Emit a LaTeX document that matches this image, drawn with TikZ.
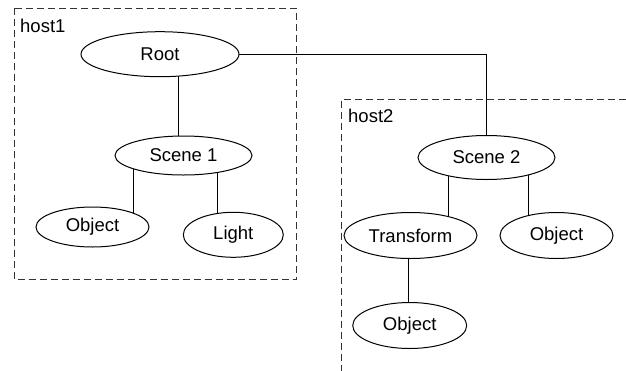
\documentclass[tikz,border=0pt]{standalone}
\usepackage{fontspec}
\setmainfont{Liberation Sans}
\usetikzlibrary{shapes.geometric,backgrounds}

\tikzset{
  obj/.style={ellipse, draw, fill=white, line width=1pt, inner sep=0pt,
              font=\fontsize{18.5}{22}\selectfont},
  link/.style={line width=1pt},
  hostbox/.style={line width=1pt, draw=black!80, dash pattern=on 7pt off 4pt},
  hostlabel/.style={anchor=base west, inner sep=0pt, font=\fontsize{18.5}{22}\selectfont}
}

\begin{document}
\begin{tikzpicture}[x=1pt, y=-1pt]
  \useasboundingbox (0,0) rectangle (626,370);

  % hosts
  \draw[hostbox] (14,8) rectangle (296.5,279.5);
  \node[hostlabel] (h1) at (20,32) {host1};
  \draw[hostbox] (626,99) -- (341.7,99) -- (341.7,372);
  \node[hostlabel] (h2) at (348,122.7) {host2};

  % scene graph on host1
  \node[obj, minimum width=158pt, minimum height=45pt] (root)   at (160,54.2)  {Root};
  \node[obj, minimum width=137pt, minimum height=39pt] (scene1) at (183.5,155.5) {Scene 1};
  \node[obj, minimum width=113pt, minimum height=40pt] (obj1)   at (92.5,227)  {Object};
  \node[obj, minimum width=100pt, minimum height=45pt] (light)  at (233.3,234.8) {Light};

  % scene graph on host2
  \node[obj, minimum width=137pt, minimum height=44pt] (scene2) at (486.5,157.5) {Scene 2};
  \node[obj, minimum width=133pt, minimum height=46pt] (xform)  at (410.5,235.5) {Transform};
  \node[obj, minimum width=113pt, minimum height=46pt] (obj2)   at (556.5,235.5) {Object};
  \node[obj, minimum width=114pt, minimum height=46pt] (obj3)   at (409.7,325.5) {Object};

  % connectors run behind the filled ellipses
  \begin{scope}[on background layer]
    \draw[link] ([xshift=-5.5pt]scene1.center) -- ([xshift=-5.5pt]scene1.center |- root.center);
    \draw[link] ([xshift=-50.5pt]scene1.center) -- ([xshift=-50.5pt]scene1.center |- obj1.center);
    \draw[link] ([xshift=33.5pt]scene1.center) -- ([xshift=33.5pt]scene1.center |- light.center);
    \draw[link] (root.center) -| (scene2.center);
    \draw[link] ([xshift=-38.5pt]scene2.center) -- ([xshift=-38.5pt]scene2.center |- xform.center);
    \draw[link] ([xshift=41.5pt]scene2.center) -- ([xshift=41.5pt]scene2.center |- obj2.center);
    \draw[link] ([xshift=-2.5pt]xform.center) -- ([xshift=-2.5pt]xform.center |- obj3.center);
  \end{scope}
\end{tikzpicture}
\end{document}
